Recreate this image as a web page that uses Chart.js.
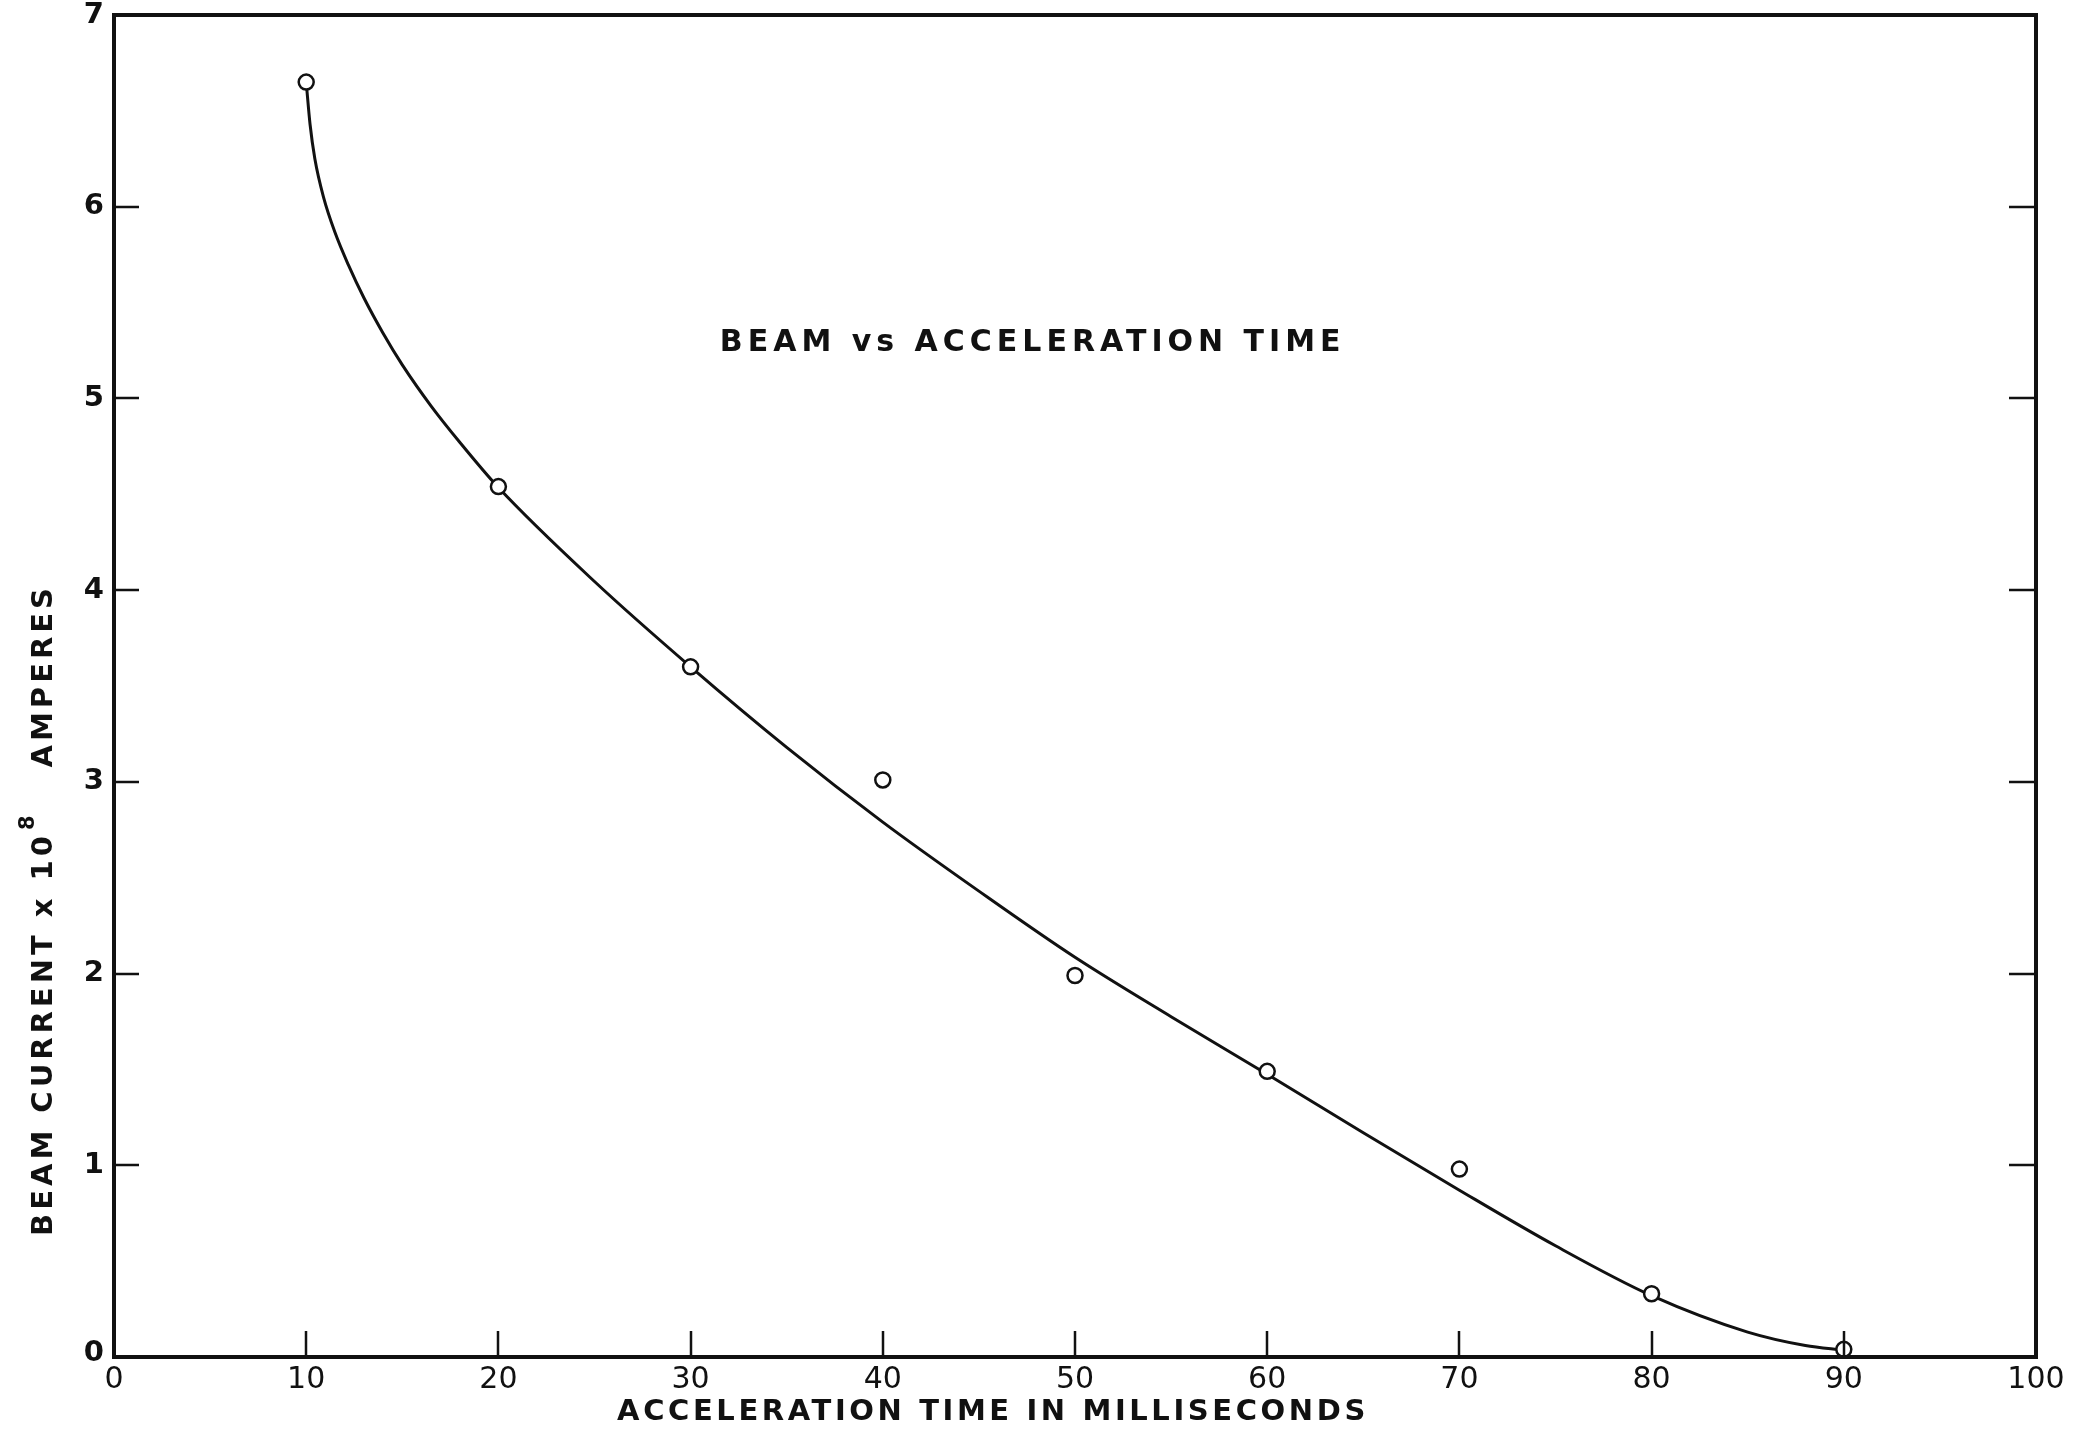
<!DOCTYPE html>
<html>
<head>
<meta charset="utf-8">
<title>Beam vs Acceleration Time</title>
<script src="https://cdn.jsdelivr.net/npm/chart.js@4.4.1/dist/chart.umd.min.js"></script>
<style>
  html, body { margin: 0; padding: 0; background: #fff; }
  #wrap { width: 2091px; height: 1435px; position: relative; }
</style>
</head>
<body>
<div id="wrap"><canvas id="beamChart"></canvas></div>
<script>
  // measured points (acceleration time in ms, beam current x 10^8 A)
  const timeMs = [10, 20, 30, 40, 50, 60, 70, 80, 90];
  const beamCurrent = [6.65, 4.54, 3.60, 3.01, 1.99, 1.49, 0.98, 0.33, 0.04];

  // hand-drawn fitted curve
  const curveX = [10, 10.2, 10.45, 10.9, 11.5, 12.2, 13, 14, 15, 16.5, 18, 20, 25, 30, 35, 40, 45, 50, 55, 60, 65, 70, 75, 80, 85, 88, 90];
  const curveY = [6.65, 6.43, 6.25, 6.05, 5.865, 5.695, 5.525, 5.34, 5.175, 4.96, 4.77, 4.535, 4.045, 3.60, 3.18, 2.79, 2.43, 2.085, 1.775, 1.475, 1.17, 0.87, 0.58, 0.32, 0.13, 0.06, 0.035];

  const xTicks = [0, 10, 20, 30, 40, 50, 60, 70, 80, 90, 100];
  const yTicks = [0, 1, 2, 3, 4, 5, 6, 7];

  const chartTitle = "BEAM vs ACCELERATION TIME";
  const xTitle = "ACCELERATION TIME IN MILLISECONDS";
  const yTitleMain = "BEAM CURRENT x 10";
  const yTitleSup = "8";
  const yTitleUnit = "AMPERES";

  const FONT = "'DejaVu Sans', 'Liberation Sans', sans-serif";
  const INK = "#111";

  // frame, inward ticks, y labels and the lettering
  const paperPlugin = {
    id: "paper",
    afterDraw(chart) {
      const { ctx, chartArea: a, scales } = chart;
      const xs = scales.x, ys = scales.y;
      ctx.save();
      ctx.strokeStyle = INK;
      ctx.lineWidth = 4;
      ctx.strokeRect(a.left, a.top, a.right - a.left, a.bottom - a.top);

      ctx.lineWidth = 2.5;
      ctx.beginPath();
      xTicks.slice(1, -1).forEach((v) => {
        const px = Math.round(xs.getPixelForValue(v));
        ctx.moveTo(px, a.bottom);
        ctx.lineTo(px, a.bottom - 26);
      });
      yTicks.slice(1, -1).forEach((v) => {
        const py = Math.round(ys.getPixelForValue(v));
        ctx.moveTo(a.left, py);
        ctx.lineTo(a.left + 25, py);
        ctx.moveTo(a.right, py);
        ctx.lineTo(a.right - 27, py);
      });
      ctx.stroke();

      ctx.fillStyle = INK;
      ctx.textBaseline = "middle";

      // y tick labels (drawn here so the plot can reach the top edge)
      ctx.textAlign = "right";
      ctx.font = "bold 29px " + FONT;
      yTicks.forEach((v) => {
        const py = ys.getPixelForValue(v) - (v === 0 ? 4 : 0);
        ctx.fillText(String(v), a.left - 10, py);
      });

      // chart title, inside the plot
      ctx.textAlign = "center";
      ctx.font = "bold 30px " + FONT;
      ctx.letterSpacing = "5px";
      ctx.fillText(chartTitle, xs.getPixelForValue(47.8), ys.getPixelForValue(5.29));

      // x axis title
      ctx.font = "bold 29px " + FONT;
      ctx.letterSpacing = "3.6px";
      ctx.fillText(xTitle, (a.left + a.right) / 2 - 82, 1412);

      // y axis title with superscript
      ctx.translate(44, 910);
      ctx.rotate(-Math.PI / 2);
      ctx.textAlign = "left";
      ctx.font = "bold 29px " + FONT;
      ctx.letterSpacing = "4px";
      const wMain = ctx.measureText(yTitleMain).width;
      const wUnit = ctx.measureText(yTitleUnit).width;
      ctx.font = "bold 21px " + FONT;
      const wSup = ctx.measureText(yTitleSup).width;
      const gap = 46;
      const total = wMain + wSup + gap + wUnit;
      const x0 = -total / 2;
      ctx.font = "bold 29px " + FONT;
      ctx.fillText(yTitleMain, x0, 0);
      ctx.font = "bold 21px " + FONT;
      ctx.fillText(yTitleSup, x0 + wMain + 2, -15);
      ctx.font = "bold 29px " + FONT;
      ctx.fillText(yTitleUnit, x0 + wMain + wSup + gap, 0);
      ctx.restore();
    },
  };

  new Chart(document.getElementById("beamChart"), {
    type: "line",
    data: {
      datasets: [
        {
          label: "Measured",
          data: timeMs.map((t, i) => ({ x: t, y: beamCurrent[i] })),
          showLine: false,
          pointRadius: 7.5,
          pointBorderWidth: 2.5,
          pointBackgroundColor: "#fff",
          pointBorderColor: INK,
          order: 0,
        },
        {
          label: "Curve",
          data: curveX.map((t, i) => ({ x: t, y: curveY[i] })),
          borderColor: INK,
          borderWidth: 3,
          pointRadius: 0,
          cubicInterpolationMode: "monotone",
          fill: false,
          order: 1,
        },
      ],
    },
    options: {
      responsive: true,
      maintainAspectRatio: false,
      animation: false,
      devicePixelRatio: 1,
      layout: { padding: { top: 15, right: 55, left: 0, bottom: 0 } },
      plugins: { legend: { display: false }, tooltip: { enabled: false }, title: { display: false } },
      scales: {
        x: {
          type: "linear",
          min: 0,
          max: 100,
          afterBuildTicks: (s) => { s.ticks = xTicks.map((v) => ({ value: v })); },
          afterFit: (s) => { s.height = 78; },
          grid: { display: false, drawTicks: false },
          border: { display: false },
          ticks: { color: INK, font: { family: FONT, size: 30 }, padding: 5, maxRotation: 0, autoSkip: false },
        },
        y: {
          type: "linear",
          min: 0,
          max: 7,
          afterBuildTicks: (s) => { s.ticks = yTicks.map((v) => ({ value: v })); },
          afterFit: (s) => { s.width = 114; },
          grid: { display: false, drawTicks: false },
          border: { display: false },
          ticks: { display: false },
        },
      },
    },
    plugins: [paperPlugin],
  });
</script>
</body>
</html>
